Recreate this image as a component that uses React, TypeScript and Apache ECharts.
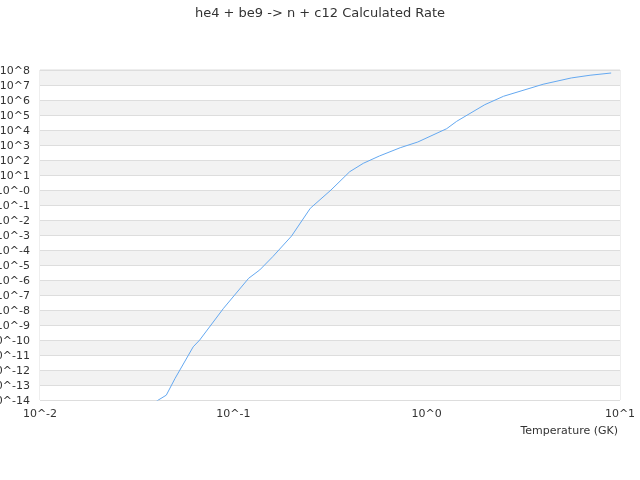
import React, { useEffect, useRef } from "react";
import * as echarts from "echarts";

const titleText = "he4 + be9 -> n + c12 Calculated Rate";
const xAxisName = "Temperature (GK)";

// Temperature (GK)
const temperatures = [
  0.04, 0.045, 0.05, 0.062, 0.067, 0.089, 0.12, 0.137, 0.16, 0.2, 0.25, 0.32,
  0.4, 0.47, 0.57, 0.73, 0.9, 1.27, 1.43, 2.0, 2.5, 4.0, 5.6, 7.0, 9.0,
];
// Calculated rate
const rates = [
  8.3e-15, 2.1e-14, 2.8e-13, 3.5e-11, 1.0e-10, 1.3e-8, 1.3e-6, 4.7e-6, 3.6e-5,
  8.5e-4, 0.06, 1.0, 16.6, 60, 186, 660, 1585, 1.23e4, 3.8e4, 4.9e5, 1.78e6,
  1.12e7, 2.95e7, 4.47e7, 6.3e7,
];

const xMin = 0.01;
const xMax = 10;
const yMin = 1e-14;
const yMax = 1e8;

const FONT = "DejaVu Sans";

function powLabel(v: number, minusZero: boolean): string {
  const e = Math.round(Math.log10(v));
  if (e === 0 && minusZero) return "10^-0";
  return "10^" + e;
}

export default function App() {
  const ref = useRef<HTMLDivElement>(null);
  useEffect(() => {
    if (!ref.current) return;
    const chart = echarts.init(ref.current, undefined, { renderer: "svg" });
    chart.setOption({
      animation: false,
      textStyle: { fontFamily: FONT },
      title: {
        text: titleText,
        left: "center",
        top: 1,
        textStyle: { fontSize: 13, fontWeight: "normal", color: "#333", fontFamily: FONT },
      },
      grid: {
        left: 40,
        right: 20,
        top: 70,
        bottom: 80,
        containLabel: false,
        outerBoundsMode: "none",
        show: true,
        borderColor: "#ddd",
        borderWidth: 1,
      },
      xAxis: {
        type: "log",
        logBase: 10,
        min: xMin,
        max: xMax,
        interval: 1,
        name: xAxisName,
        nameLocation: "end",
        nameGap: -2,
        nameTextStyle: {
          align: "right",
          verticalAlign: "top",
          padding: [25, 0, 0, 0],
          color: "#333",
          fontSize: 11,
          fontFamily: FONT,
        },
        axisLine: { show: false },
        axisTick: { show: false },
        splitLine: { show: false },
        axisLabel: {
          color: "#333",
          fontSize: 11,
          margin: 8,
          fontFamily: FONT,
          formatter: (v: number) => powLabel(v, false),
        },
      },
      yAxis: {
        type: "log",
        logBase: 10,
        min: yMin,
        max: yMax,
        interval: 1,
        axisLine: { show: false },
        axisTick: { show: false },
        splitLine: { show: true, lineStyle: { color: "#ddd" } },
        splitArea: { show: true, areaStyle: { color: ["#ffffff", "#f2f2f2"] } },
        axisLabel: {
          color: "#333",
          fontSize: 11,
          margin: 10,
          fontFamily: FONT,
          formatter: (v: number) => powLabel(v, true),
        },
      },
      series: [
        {
          type: "line",
          data: temperatures.map((t, i) => [t, rates[i]]),
          showSymbol: false,
          symbol: "none",
          clip: true,
          lineStyle: { color: "#64a8f0", width: 1 },
          itemStyle: { color: "#64a8f0" },
        },
      ],
    });
    return () => chart.dispose();
  }, []);
  return (
    <div
      ref={ref}
      style={{ position: "fixed", left: 0, top: 0, width: 640, height: 480 }}
    />
  );
}
